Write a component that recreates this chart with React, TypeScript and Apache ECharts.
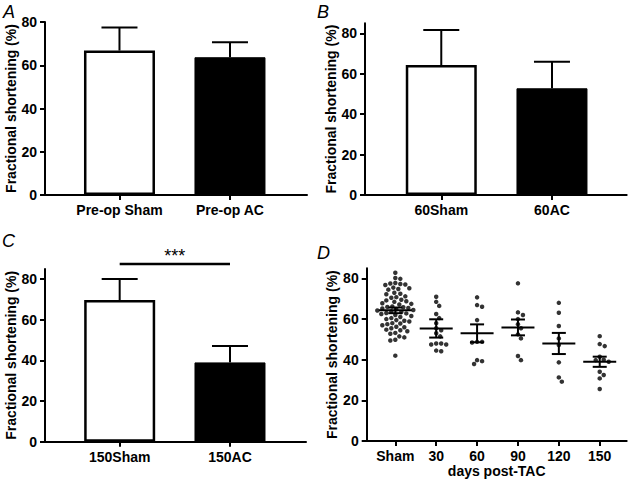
import React, { useEffect, useRef } from "react";
import * as echarts from "echarts";

// ---------- data ----------
const panelALabels = ["Pre-op Sham", "Pre-op AC"];
const panelAMeans = [66.8, 63.7];
const panelAErrors = [10.6, 6.9];

const panelBLabels = ["60Sham", "60AC"];
const panelBMeans = [64.3, 52.8];
const panelBErrors = [17.3, 13.1];

const panelCLabels = ["150Sham", "150AC"];
const panelCMeans = [69.7, 39.0];
const panelCErrors = [10.3, 8.1];
const panelCSignificance = "***";
const panelCSignificanceLevel = 87.4;

const panelDCategories = ["Sham", "30", "60", "90", "120", "150"];
const dSham = [
  82.8, 80.2, 79.8, 77.8, 77.5, 77.3, 77.0, 76.8, 75.5, 75.2, 74.8, 74.5, 73.0, 72.5,
  72.2, 71.2, 70.8, 70.5, 69.5, 69.2, 68.8, 68.5, 67.8, 67.5, 67.2, 66.2, 66.0, 65.8,
  65.5, 65.2, 64.8, 64.5, 64.2, 63.8, 63.5, 63.0, 62.8, 62.5, 62.0, 61.5, 61.0, 60.5,
  60.0, 59.5, 59.2, 58.8, 58.0, 57.8, 57.5, 57.0, 56.2, 56.0, 55.5, 54.8, 54.5, 54.0,
  53.2, 52.8, 51.5, 51.0, 49.8, 49.5, 42.0,
];
const d30 = [71, 68.5, 66.5, 62.5, 60.5, 58, 55.5, 54.5, 53, 51.5, 48, 48, 47.5, 47.5, 44.5, 44.2];
const d60 = [70.7, 66.9, 66.1, 59.5, 48.8, 48.8, 48.5, 39.8, 39.3, 37.9];
const d90 = [77.6, 63.3, 62.0, 60.0, 57.5, 55.5, 52.5, 50.5, 41.8, 39.8];
const d120 = [68.0, 63.1, 56.6, 50.5, 47.2, 38.7, 31.3, 29.2];
const d150 = [51.6, 47.7, 46.7, 41.5, 40.0, 39.8, 39.0, 34.1, 32.5, 30.8, 25.6];
const panelDGroups = [dSham, d30, d60, d90, d120, d150];
const panelDMeans = [64.3, 55.4, 53.0, 55.9, 48.0, 39.0];
const panelDSem = [1.4, 4.5, 4.4, 3.9, 5.2, 2.5];

const yTicks = [0, 20, 40, 60, 80];

// ---------- layout helpers ----------
const FONT = '"Liberation Sans", Arial, Helvetica, sans-serif';
const X_PX = 40.9; // px per x unit in panel D
const Y_PX = 2.033; // px per y unit in panel D
const MIN_D = 4.8;
const STEP = 1;

function swarm(values: number[], center: number): number[][] {
  const pts: { px: number; py: number; v: number }[] = [];
  const sorted = [...values].sort((a, b) => b - a);
  for (const v of sorted) {
    const py = v * Y_PX;
    let chosen = 0;
    for (let k = 0; k < 80; k++) {
      const off = (k % 2 === 1 ? 1 : -1) * Math.ceil(k / 2) * STEP;
      if (pts.every((p) => Math.hypot(p.px - off, p.py - py) >= MIN_D)) {
        chosen = off;
        break;
      }
    }
    pts.push({ px: chosen, py, v });
  }
  return pts.map((p) => [center + p.px / X_PX, p.v]);
}

const axisLineStyle = { show: true, onZero: false, lineStyle: { color: "#000", width: 2 } };
const axisTickStyle = { show: true, length: 5, lineStyle: { color: "#000", width: 2 } };
const labelStyle = { color: "#000", fontWeight: "bold", fontSize: 14, fontFamily: FONT };

function yAxis(gridIndex: number, max: number) {
  return {
    type: "value",
    gridIndex,
    min: 0,
    max,
    axisLine: axisLineStyle,
    axisTick: { ...axisTickStyle, customValues: yTicks },
    axisLabel: { ...labelStyle, margin: 8, customValues: yTicks },
    splitLine: { show: false },
    name: "Fractional shortening (%)",
    nameLocation: "middle",
    nameGap: 27,
    nameTextStyle: { color: "#000", fontWeight: "bold", fontSize: 14, fontFamily: FONT },
  };
}

function xAxis(gridIndex: number, min: number, max: number, labels: string[], extra: any = {}) {
  const vals = labels.map((_, i) => i);
  return {
    type: "value",
    gridIndex,
    min,
    max,
    axisLine: axisLineStyle,
    axisTick: { ...axisTickStyle, customValues: vals },
    axisLabel: {
      ...labelStyle,
      margin: 8,
      customValues: vals,
      formatter: (v: number) => labels[Math.round(v)] ?? "",
    },
    splitLine: { show: false },
    ...extra,
  };
}

function barSeries(idx: number, means: number[]) {
  return {
    type: "bar",
    xAxisIndex: idx,
    yAxisIndex: idx,
    barWidth: 71,
    data: means.map((m, i) => ({
      value: [i, m],
      itemStyle:
        i === 0
          ? { color: "#fff", borderColor: "#000", borderWidth: 2.5 }
          : { color: "#000", borderColor: "#000", borderWidth: 1 },
    })),
    z: 2,
  };
}

function errSeries(idx: number, means: number[], errs: number[]) {
  return {
    type: "custom",
    xAxisIndex: idx,
    yAxisIndex: idx,
    clip: false,
    z: 3,
    data: means.map((m, i) => [i, m, m + errs[i]]),
    encode: { x: 0, y: [1, 2] },
    renderItem: (_p: any, api: any) => {
      const x = api.value(0);
      const a = api.coord([x, api.value(1)]);
      const b = api.coord([x, api.value(2)]);
      const st = { stroke: "#000", lineWidth: 2 };
      return {
        type: "group",
        children: [
          { type: "line", shape: { x1: a[0], y1: a[1], x2: b[0], y2: b[1] }, style: st },
          { type: "line", shape: { x1: b[0] - 18, y1: b[1], x2: b[0] + 18, y2: b[1] }, style: st },
        ],
      };
    },
  };
}

export default function App() {
  const ref = useRef<HTMLDivElement>(null);
  useEffect(() => {
    if (!ref.current) return;
    const chart = echarts.init(ref.current, undefined, { renderer: "svg" });

    const scatterData: number[][] = [];
    panelDGroups.forEach((g, i) => scatterData.push(...swarm(g, i)));

    const letter = (t: string, x: number, y: number) => ({
      type: "text",
      x,
      y,
      style: { text: t, font: `italic 18px ${FONT}`, fill: "#000", verticalAlign: "top" },
    });

    chart.setOption({
      animation: false,
      backgroundColor: "#fff",
      grid: [
        { left: 45, top: 22, width: 262, height: 173 },
        { left: 365, top: 23.2, width: 261.7, height: 171.8 },
        { left: 45, top: 268.9, width: 261, height: 172.8 },
        { left: 366.7, top: 268.3, width: 260, height: 172.7 },
      ],
      xAxis: [
        xAxis(0, -0.674, 1.697, panelALabels),
        xAxis(1, -0.689, 1.675, panelBLabels),
        xAxis(2, -0.677, 1.689, panelCLabels),
        xAxis(3, -0.7, 5.66, panelDCategories, {
          name: "days post-TAC",
          nameLocation: "middle",
          nameGap: 19,
          nameTextStyle: { color: "#000", fontWeight: "bold", fontSize: 14, fontFamily: FONT, verticalAlign: "top" },
        }),
      ],
      yAxis: [yAxis(0, 80), yAxis(1, 85), yAxis(2, 85), yAxis(3, 85)],
      graphic: [letter("A", 3, 3), letter("B", 317, 3), letter("C", 2, 232), letter("D", 317, 244)],
      series: [
        barSeries(0, panelAMeans),
        errSeries(0, panelAMeans, panelAErrors),
        barSeries(1, panelBMeans),
        errSeries(1, panelBMeans, panelBErrors),
        barSeries(2, panelCMeans),
        errSeries(2, panelCMeans, panelCErrors),
        {
          type: "custom",
          xAxisIndex: 2,
          yAxisIndex: 2,
          clip: false,
          data: [[0, 1, panelCSignificanceLevel]],
          renderItem: (_p: any, api: any) => {
            const a = api.coord([api.value(0), api.value(2)]);
            const b = api.coord([api.value(1), api.value(2)]);
            return {
              type: "group",
              children: [
                { type: "line", shape: { x1: a[0], y1: a[1], x2: b[0], y2: b[1] }, style: { stroke: "#000", lineWidth: 2.5 } },
                {
                  type: "text",
                  x: (a[0] + b[0]) / 2,
                  y: a[1] + 1,
                  style: { text: panelCSignificance, font: `18px ${FONT}`, fill: "#000", align: "center", verticalAlign: "bottom" },
                },
              ],
            };
          },
        },
        {
          type: "scatter",
          xAxisIndex: 3,
          yAxisIndex: 3,
          symbol: "circle",
          symbolSize: 4.5,
          itemStyle: { color: "#000" },
          data: scatterData,
          z: 2,
        },
        {
          type: "custom",
          xAxisIndex: 3,
          yAxisIndex: 3,
          clip: false,
          z: 3,
          data: panelDMeans.map((m, i) => [i, m, m - panelDSem[i], m + panelDSem[i]]),
          encode: { x: 0, y: [1, 2, 3] },
          renderItem: (_p: any, api: any) => {
            const x = api.value(0);
            const m = api.coord([x, api.value(1)]);
            const lo = api.coord([x, api.value(2)]);
            const hi = api.coord([x, api.value(3)]);
            const st = { stroke: "#000", lineWidth: 2 };
            return {
              type: "group",
              children: [
                { type: "line", shape: { x1: m[0] - 16.5, y1: m[1], x2: m[0] + 16.5, y2: m[1] }, style: st },
                { type: "line", shape: { x1: lo[0], y1: lo[1], x2: hi[0], y2: hi[1] }, style: st },
                { type: "line", shape: { x1: lo[0] - 7, y1: lo[1], x2: lo[0] + 7, y2: lo[1] }, style: st },
                { type: "line", shape: { x1: hi[0] - 7, y1: hi[1], x2: hi[0] + 7, y2: hi[1] }, style: st },
              ],
            };
          },
        },
      ],
    });
    return () => chart.dispose();
  }, []);
  return (
    <div
      ref={ref}
      style={{ position: "fixed", left: 0, top: 0, width: 630, height: 483, background: "#fff" }}
    />
  );
}
